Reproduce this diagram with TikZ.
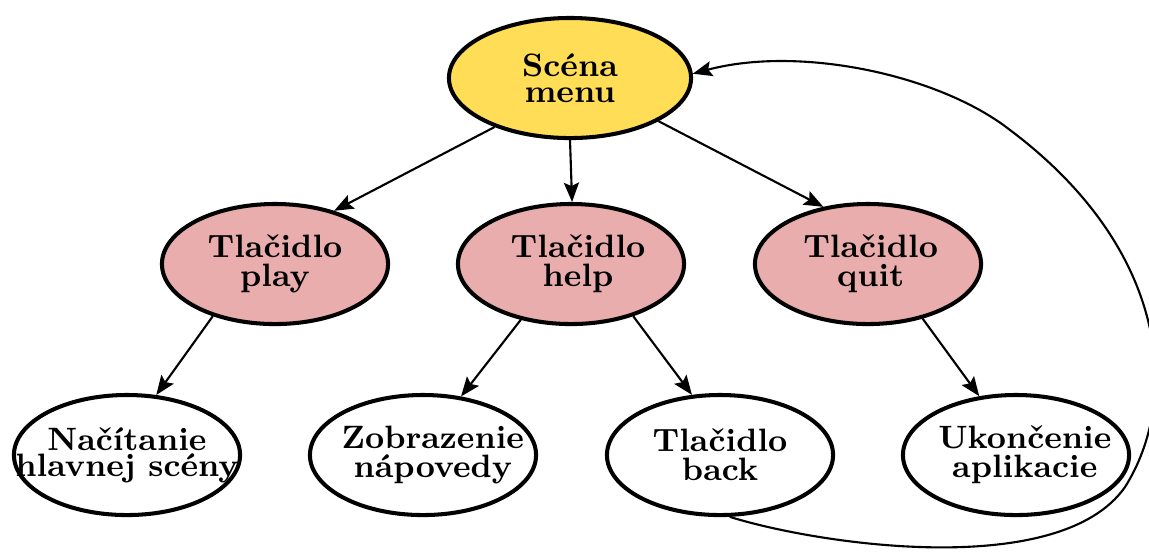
\documentclass[tikz,border=0pt]{standalone}
\usetikzlibrary{shapes.geometric,arrows.meta}
\definecolor{menuyellow}{RGB}{255,221,87}
\definecolor{btnpink}{RGB}{232,173,172}
\newcommand{\rsh}[1]{\hspace*{#1}}
\begin{document}
\begin{tikzpicture}[x=0.01cm,y=-0.01cm,
  state/.style={ellipse,draw=black,line width=1.15pt,minimum width=2.26cm,minimum height=1.2cm,inner xsep=-14pt,inner ysep=-4pt,align=center,
    font=\fontsize{9.2pt}{8.3pt}\selectfont\bfseries},
  tight/.style={font=\fontsize{9.2pt}{7.3pt}\selectfont\bfseries},
  menustate/.style={state,fill=menuyellow,minimum width=2.42cm},
  btn/.style={state,fill=btnpink},
  leaf/.style={state,fill=white},
  conn/.style={-{Stealth[length=5.5pt,width=4.3pt,inset=1pt]},line width=0.6pt}]
\useasboundingbox (0,0) rectangle (1149,556);
\node[menustate,tight] (menu) at (570,78) {Scéna\\menu};
\node[btn] (play) at (275,264) {Tlačidlo\\play};
\node[btn] (help) at (571,264) {\rsh{4pt}Tlačidlo\\\rsh{4pt}help};
\node[btn] (quit) at (868,264) {\rsh{1.5pt}Tlačidlo\\\rsh{1.5pt}quit};
\node[leaf,tight] (load) at (127,455) {Načítanie\\hlavnej scény};
\node[leaf] (hint) at (423,455) {\rsh{5.6pt}Zobrazenie\\\rsh{5.6pt}nápovedy};
\node[leaf] (back) at (720,455) {Tlačidlo\\back};
\node[leaf] (exit) at (1016,455) {\rsh{5pt}Ukončenie\\\rsh{5pt}aplikacie};
\draw[conn] (menu.213) -- (play.42);
\draw[conn] (menu.270) -- (help.89);
\draw[conn] (menu.334) -- (quit.128);
\draw[conn] (play.220) -- (load.64);
\draw[conn] (help.228) -- (hint.57);
\draw[conn] (help.320) -- (back.115);
\draw[conn] (quit.315) -- (exit.122);
\draw[conn] (back.279) .. controls (820,545) and (1060,580) .. (1125,487)
  .. controls (1180,400) and (1170,250) .. (1010,130)
  .. controls (940,75) and (800,45) .. (menu.2);
\end{tikzpicture}
\end{document}
